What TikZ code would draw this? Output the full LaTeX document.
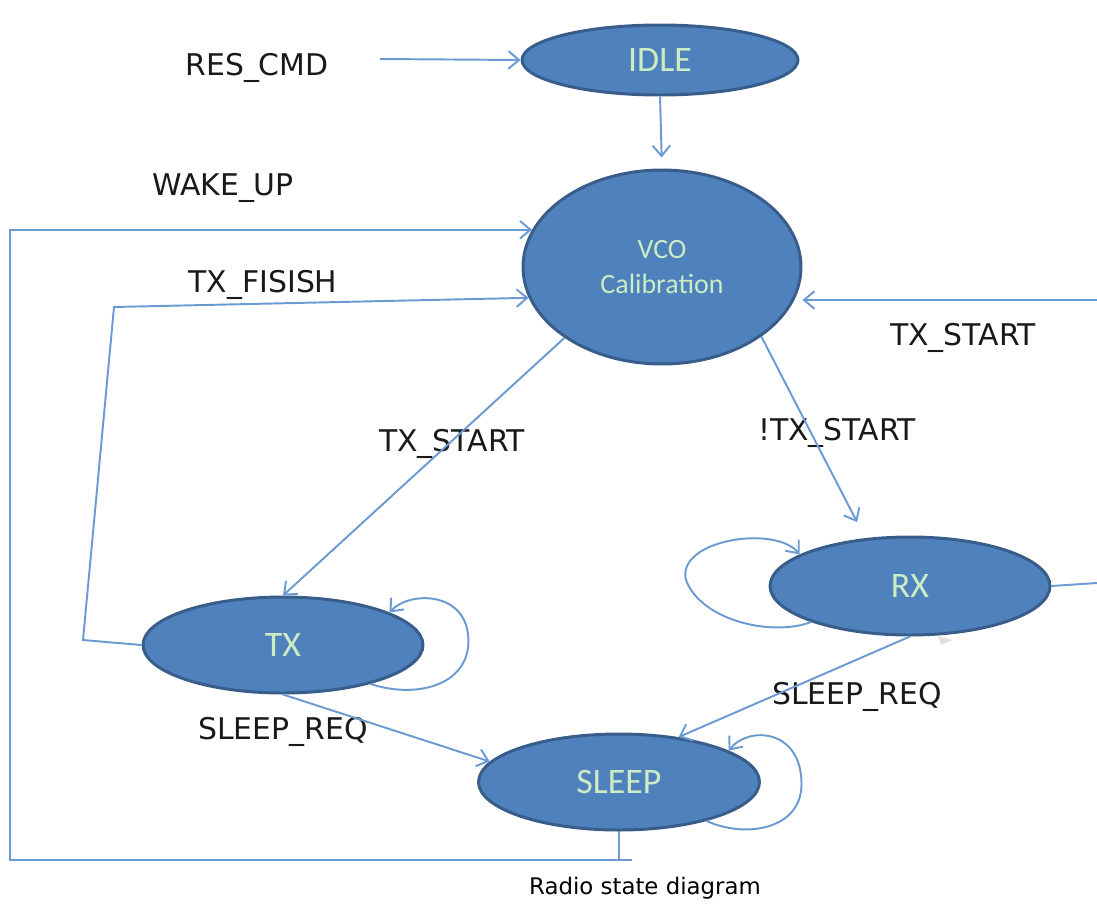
\documentclass[tikz,border=0pt]{standalone}
\usepackage{fontspec}
\setmainfont{DejaVu Sans}
\newfontfamily\statefont{Carlito}
\usetikzlibrary{shapes.geometric,arrows.meta}
\definecolor{statefill}{RGB}{79,129,189}
\definecolor{stateborder}{RGB}{56,93,138}
\definecolor{statetext}{RGB}{204,236,196}
\definecolor{linecol}{RGB}{107,153,210}
\tikzset{
  state/.style={ellipse, draw=stateborder, line width=1.7pt, fill=statefill,
    text=statetext, inner sep=0pt, font=\statefont\fontsize{20.4}{24}\selectfont},
  lbl/.style={inner sep=0pt, text=black!90, font=\fontsize{17}{20}\selectfont},
  conn/.style={draw=linecol, line width=1.1pt},
  arr/.style={conn, -{Straight Barb[length=6pt,width=10pt]}},
}
\begin{document}
\begin{tikzpicture}[x=0.02cm,y=-0.02cm]
\useasboundingbox (0,0) rectangle (1097,904);
% states
\node[state, minimum width=5.52cm, minimum height=1.40cm] (idle) at (660,60) {IDLE};
\node[state, minimum width=5.56cm, minimum height=3.88cm, align=center,
      font=\statefont\fontsize{15.9}{20}\selectfont] (vco) at (662,267) {VCO\\Calibration};
\node[state, minimum width=5.60cm, minimum height=1.92cm] (tx) at (283,645) {TX};
\node[state, minimum width=5.60cm, minimum height=1.96cm] (rx) at (910,586) {RX};
\node[state, minimum width=5.62cm, minimum height=1.92cm] (sleep) at (619,782) {SLEEP};
% labels
\node[lbl] (lres) at (257,68) {RES\_CMD};
\node[lbl] (lwake) at (223,188) {WAKE\_UP};
\node[lbl] (lfin) at (263,285) {TX\_FISISH};
\node[lbl] (ltsr) at (963,338) {TX\_START};
\node[lbl] (ltsm) at (452,444) {TX\_START};
\node[lbl] (lnts) at (837,433) {!TX\_START};
\node[lbl] (lsl) at (283,732) {SLEEP\_REQ};
\node[lbl] (lsr) at (857,697) {SLEEP\_REQ};
\node[inner sep=0pt, font=\fontsize{13}{16}\selectfont] (cap) at (645,888) {Radio state diagram};
% free ends
\coordinate (rs) at (380,59);
\coordinate (wb) at (10,860);
\coordinate (wr) at (632,860);
\coordinate (f1) at (83,640);
\coordinate (f2) at (114,307);
\coordinate (tr) at (1097,300);
\coordinate (rr) at (1097,583);
% connectors
\draw[arr] (rs) -- (idle.west);
\draw[arr, shorten >=0.22cm] (idle.south) -- (vco.north);
\draw[conn] (sleep.south) -- (sleep.south |- wb);
\draw[arr] (wr) -- (wb) |- (vco.164);
\draw[arr] (tx.west) -- (f1) -- (f2) -- (vco.193);
\draw[arr] (tr) -- (tr -| vco.east);
\draw[arr] (vco.216) -- (tx.north);
\draw[arr, shorten >=0.36cm] (vco.325) -- (rx.133);
\draw[conn] (rx.east) -- (rr);
\draw[arr] (rx.south) -- (sleep.37);
\draw[arr] (tx.south) -- (sleep.171);
% self loops
\draw[arr] (tx.336) .. controls +(45,15) and +(0,45) .. ++(98,-43)
  .. controls +(0,-50) and +(20,-22) .. (tx.17);
\draw[arr] (rx.200) .. controls +(-40,15) and +(15,40) .. ++(-125,-42)
  .. controls +(-10,-40) and +(-25,-30) .. (rx.164);
\draw[arr] (sleep.336) .. controls +(40,18) and +(0,45) .. ++(95,-37)
  .. controls +(0,-55) and +(20,-25) .. (sleep.16);
% small shadow artifact
\fill[black!12] (938,636) -- (953,640) -- (941,645) -- cycle;
\end{tikzpicture}
\end{document}
